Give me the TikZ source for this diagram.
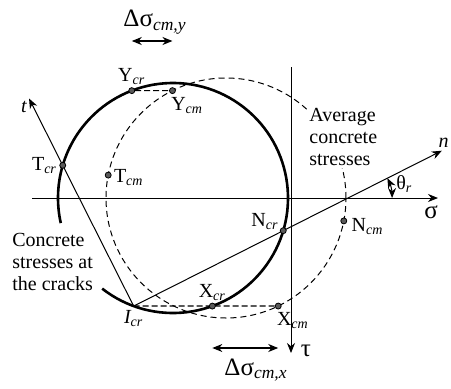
\documentclass[tikz,border=0pt]{standalone}
\usepackage{fontspec}
\setmainfont{Liberation Serif}
\usetikzlibrary{positioning,arrows.meta,calc,backgrounds}
\newcommand\sbs[1]{\textsubscript{\itshape #1}}

\begin{document}
\begin{tikzpicture}[
    x=0.5pt, y=0.5pt,
    >={Stealth[length=5pt,width=4pt]},
    font=\fontsize{10}{11}\selectfont,
    axis/.style={line width=0.5pt},
    crack/.style={line width=1.3pt},
    avg/.style={line width=0.5pt, dash pattern=on 3pt off 2pt},
    link/.style={line width=0.6pt, dash pattern=on 3pt off 1.5pt},
    dim/.style={<->, line width=0.6pt},
    dot/.style={circle, draw=black, fill=black!65, line width=0.4pt,
                inner sep=0pt, minimum size=3pt},
    lbl/.style={inner sep=1pt},
    big/.style={inner sep=1pt, font=\fontsize{12.5}{13}\selectfont},
    note/.style={align=left, inner sep=1pt},
]
\useasboundingbox (0,0) rectangle (451,388);

% === circle centres ===
\coordinate (Ccr) at (173,190);
\coordinate (Ccm) at (226,190);

% === points on the two circles ===
\node[dot] (Ycr) at ($(Ccr)+(111:115)$) {};
\node[dot] (Ycm) at ($(Ccm)+(116.5:120)$) {};
\node[dot] (Tcr) at ($(Ccr)+(163.5:115)$) {};
\node[dot] (Tcm) at ($(Ccm)+(169:120)$) {};
\node[dot] (Ncr) at ($(Ccr)+(-16.5:115)$) {};
\node[dot] (Ncm) at ($(Ccm)+(-11:120)$) {};
\node[dot] (Xcr) at ($(Ccr)+(-70:115)$) {};
\node[dot] (Xcm) at ($(Ccm)+(-64.2:120)$) {};
\coordinate (Icr) at ($(Ccr)+(250:115)$);

% === point labels ===
\node[lbl, above=0pt of Ycr] (lYcr) {Y\sbs{cr}};
\node[lbl, below right=1pt and -3pt of Ycm] (lYcm) {Y\sbs{cm}};
\node[lbl, left=0pt of Tcr] (lTcr) {T\sbs{cr}};
\node[lbl, right=0pt of Tcm, yshift=-1pt] (lTcm) {T\sbs{cm}};
\node[lbl, above left=-2pt and 0pt of Ncr] (lNcr) {N\sbs{cr}};
\node[lbl, right=1pt of Ncm, yshift=-3pt] (lNcm) {N\sbs{cm}};
\node[lbl, above=0pt of Xcr] (lXcr) {X\sbs{cr}};
\node[lbl, below right=1pt and -3pt of Xcm] (lXcm) {X\sbs{cm}};
\node[lbl, below=1pt of Icr] (lIcr) {\itshape I\sbs{cr}};

% === axes ===
\coordinate (sigS) at (32,190);
\coordinate (sigE) at (438,190);
\coordinate (tauS) at (291,321);
\coordinate (tauE) at (291,35);
\coordinate (tTip) at ($(Icr)!1.475!(Tcr)$);
\coordinate (nTip) at ($(Icr)!2.06!(Ncr)$);
\coordinate (thO) at (intersection of Icr--nTip and sigS--sigE);
\node[big] (sig) at (431,176) {σ};
\node[big] (tau) at (306,37) {τ};
\node[lbl, font=\itshape\fontsize{10}{11}\selectfont] (tlab) at (24,281) {t};
\node[lbl, font=\itshape\fontsize{10}{11}\selectfont, anchor=south east] (nlab) at (451,238) {n};

% === notes ===
\node[note, anchor=north west] (crnote) at (10,157) {Concrete\\stresses at\\the cracks};
\node[note, anchor=north west, fill=white] (cmnote) at (307,282) {Average\\concrete\\stresses};

% === offsets ===
\coordinate (dyLev) at (0,347);
\coordinate (dxLev) at (0,40);
\node[big] (dsy) at (155,366) {Δσ\sbs{cm,y}};
\node[big] (dsx) at (256,18) {Δσ\sbs{cm,x}};
\draw[dim] (Ycr |- dyLev) -- (Ycm |- dyLev);
\draw[dim] (Xcr |- dxLev) -- (Xcm |- dxLev);

% === angle ===
\draw[<->, line width=0.5pt] ($(thO)+(0:44)$) arc[start angle=0, end angle=26.75, radius=44];
\node[lbl, anchor=west] (th) at (394,204) {θ\sbs{r}};

\begin{scope}[on background layer]
  \draw[axis,->] (sigS) -- (sigE);
  \draw[axis,->] (tauS) -- (tauE);
  \draw[crack] ($(Ccr)+(232:115)$) arc[start angle=232, end angle=552.6, radius=115];
  \draw[avg] (Ccm) circle[radius=120];
  \draw[axis,->] (Icr) -- (tTip);
  \draw[axis,->] (Icr) -- (nTip);
  \draw[link] (Ycr) -- (Ycm);
  \draw[link] (Icr) -- (Xcm);
\end{scope}
\end{tikzpicture}
\end{document}
